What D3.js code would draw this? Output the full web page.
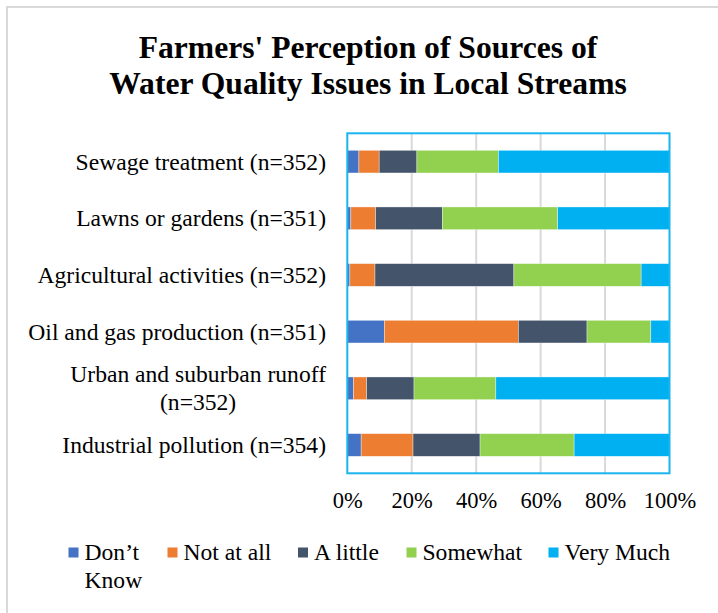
<!DOCTYPE html>
<html>
<head>
<meta charset="utf-8">
<script src="https://cdn.jsdelivr.net/npm/d3@7"></script>
<style>
html,body{margin:0;padding:0;background:#fff;}
svg{display:block;}
text{font-family:"Liberation Serif","Times New Roman",serif;fill:#000;}
</style>
</head>
<body>
<svg id="chart" width="718" height="613"></svg>
<script>
const categories = [
  ["Sewage treatment (n=352)"],
  ["Lawns or gardens (n=351)"],
  ["Agricultural activities (n=352)"],
  ["Oil and gas production (n=351)"],
  ["Urban and suburban runoff", "(n=352)"],
  ["Industrial pollution (n=354)"]
];
const seriesNames = ["Don\u2019t Know", "Not at all", "A little", "Somewhat", "Very Much"];
const dontKnow  = [3.6, 1.1, 0.8, 11.5, 1.9, 4.3];
const notAtAll  = [6.3, 7.7, 7.8, 41.6, 4.1, 16.1];
const aLittle   = [11.7, 20.7, 43.1, 21.3, 14.7, 20.8];
const somewhat  = [25.3, 35.8, 39.5, 19.8, 25.4, 29.2];
const veryMuch  = [53.1, 34.7, 8.8, 5.8, 53.9, 29.6];
const xTicks = [0, 20, 40, 60, 80, 100];
const colors = ["#4472C4", "#ED7D31", "#44546A", "#92D050", "#00B0F0"];

const seriesValues = [dontKnow, notAtAll, aLittle, somewhat, veryMuch];
const rows = categories.map((c, i) => {
  const o = { key: i };
  seriesNames.forEach((s, j) => o[s] = seriesValues[j][i]);
  return o;
});

const svg = d3.select("#chart");
const plot = { left: 347.3, right: 669.5, top: 133.3, bottom: 473.3 };

// outer chart border
svg.append("rect").attr("x", 7).attr("y", 7).attr("width", 740).attr("height", 640)
  .attr("fill", "none").attr("stroke", "#D9D9D9").attr("stroke-width", 2);

// title
const title = svg.append("text").attr("text-anchor", "middle")
  .style("font-weight", "bold").style("font-size", "31.6px");
title.append("tspan").attr("x", 368).attr("y", 58).text("Farmers' Perception of Sources of");
title.append("tspan").attr("x", 368).attr("y", 94).text("Water Quality Issues in Local Streams");

const x = d3.scaleLinear().domain([0, 100]).range([plot.left, plot.right]);
const y = d3.scaleBand().domain(d3.range(categories.length))
  .range([plot.top, plot.bottom]).paddingInner(0.6).paddingOuter(0.3);

// gridlines
svg.append("g").selectAll("line").data(xTicks.slice(1, -1)).join("line")
  .attr("x1", d => x(d)).attr("x2", d => x(d))
  .attr("y1", plot.top).attr("y2", plot.bottom)
  .attr("stroke", "#D9D9D9").attr("stroke-width", 2);

// stacked bars
const stack = d3.stack().keys(seriesNames)(rows);
svg.append("g").selectAll("g").data(stack).join("g")
  .attr("fill", (d, i) => colors[i])
  .selectAll("rect").data(d => d).join("rect")
  .attr("x", d => x(d[0]))
  .attr("width", d => x(d[1]) - x(d[0]))
  .attr("y", d => y(d.data.key))
  .attr("height", y.bandwidth())
  .attr("stroke", "#ffffff").attr("stroke-width", 0.6).attr("stroke-opacity", 0.6);

// plot border
svg.append("rect").attr("x", plot.left).attr("y", plot.top)
  .attr("width", plot.right - plot.left).attr("height", plot.bottom - plot.top)
  .attr("fill", "none").attr("stroke", "#1AB4EF").attr("stroke-width", 2);

// y labels
const lineH = 28;
const yl = svg.append("g").selectAll("text").data(categories).join("text")
  .attr("text-anchor", "middle").style("font-size", "23.6px");
yl.each(function(lines, i) {
  const t = d3.select(this);
  const cy = y(i) + y.bandwidth() / 2;
  // measure widest line to right-align the block at 326
  t.selectAll("tspan").data(lines).join("tspan").text(d => d);
  const widths = [];
  t.selectAll("tspan").each(function() { widths.push(this.getComputedTextLength()); });
  const w = d3.max(widths);
  const cx = 326 - w / 2;
  const y0 = cy + 8 - (lines.length - 1) * lineH / 2;
  t.selectAll("tspan").attr("x", cx).attr("y", (d, k) => y0 + k * lineH);
});

// x axis labels
const xAxis = d3.axisBottom(x).tickValues(xTicks).tickSize(0).tickFormat(d => d + "%");
const xg = svg.append("g").attr("transform", `translate(0,${plot.bottom})`).call(xAxis);
xg.select(".domain").remove();
xg.selectAll("text").attr("dy", 0).attr("y", 35)
  .style("font-size", "22.5px").style("font-family", "'Liberation Serif','Times New Roman',serif").attr("fill", "#000");

// legend
const legendX = [68.5, 167.5, 298, 406.5, 548.5];
const lg = svg.append("g").selectAll("g").data(seriesNames).join("g")
  .attr("transform", (d, i) => `translate(${legendX[i]},0)`);
lg.append("rect").attr("x", 0).attr("y", 547.5).attr("width", 10).attr("height", 10)
  .attr("fill", (d, i) => colors[i]);
lg.append("text").style("font-size", "23.6px").each(function(d) {
  const t = d3.select(this);
  const parts = d === "Don\u2019t Know" ? ["Don\u2019t", "Know"] : [d];
  parts.forEach((p, k) => t.append("tspan").attr("x", 16).attr("y", 560 + k * 28).text(p));
});
</script>
</body>
</html>
